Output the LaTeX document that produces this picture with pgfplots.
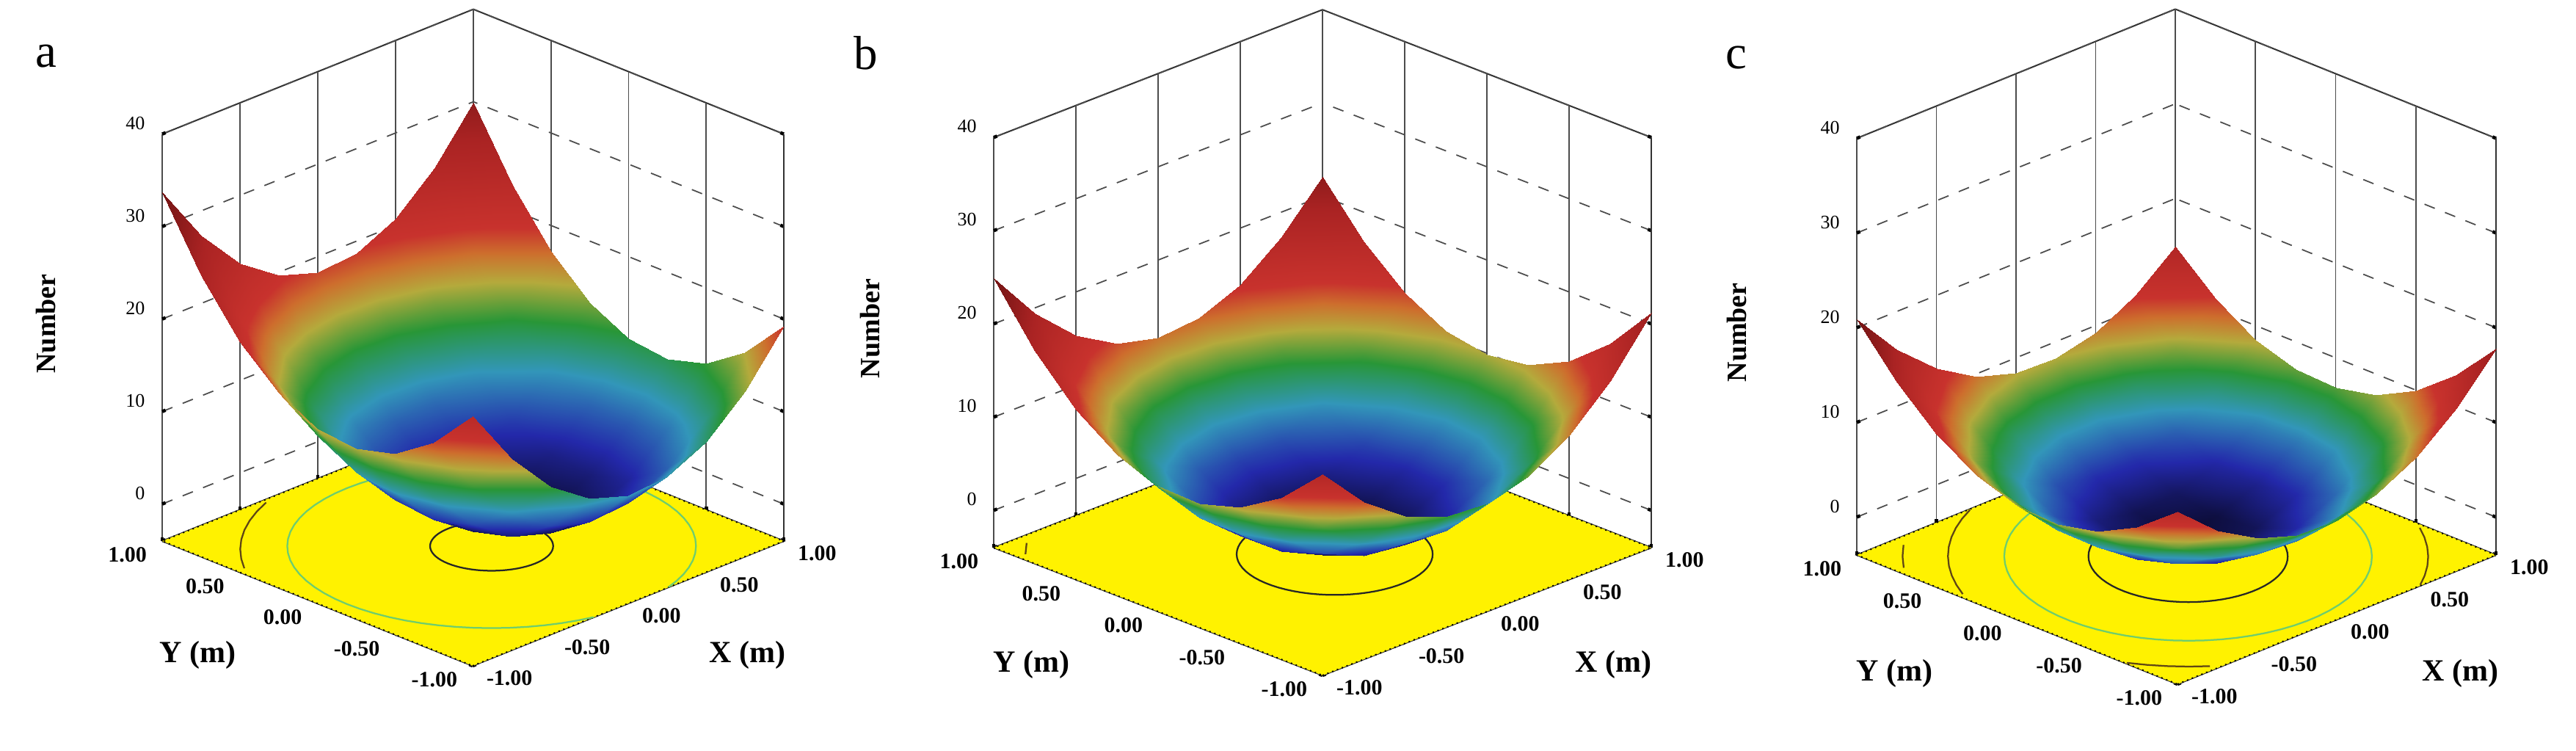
\documentclass[border=0pt]{standalone}
\usepackage{fontspec}
\setmainfont{Liberation Serif}
\usepackage{pgfplots}
\usepackage{pgfplotstable}
\pgfplotsset{compat=1.18}

% ---------- surface a (x varies fastest, rows are y = -1 ... 1)
\pgfplotstableread{
x y z
-1 -1 23.02
-0.75 -1 16.66
-0.5 -1 11.99
-0.25 -1 9.00
0 -1 7.69
0.25 -1 8.06
0.5 -1 10.11
0.75 -1 13.85
1 -1 19.27
-1 -0.75 18.46
-0.75 -0.75 12.11
-0.5 -0.75 7.43
-0.25 -0.75 4.44
0 -0.75 3.13
0.25 -0.75 3.50
0.5 -0.75 5.56
0.75 -0.75 9.29
1 -0.75 14.71
-1 -0.5 15.59
-0.75 -0.5 9.23
-0.5 -0.5 4.56
-0.25 -0.5 1.56
0 -0.5 0.25
0.25 -0.5 0.63
0.5 -0.5 2.68
0.75 -0.5 6.42
1 -0.5 11.84
-1 -0.25 14.40
-0.75 -0.25 8.04
-0.5 -0.25 3.36
-0.25 -0.25 0.37
0 -0.25 -0.94
0.25 -0.25 -0.57
0.5 -0.25 1.49
0.75 -0.25 5.23
1 -0.25 10.65
-1 0 14.89
-0.75 0 8.53
-0.5 0 3.85
-0.25 0 0.86
0 0 -0.45
0.25 0 -0.08
0.5 0 1.98
0.75 0 5.72
1 0 11.14
-1 0.25 17.06
-0.75 0.25 10.70
-0.5 0.25 6.03
-0.25 0.25 3.03
0 0.25 1.72
0.25 0.25 2.10
0.5 0.25 4.15
0.75 0.25 7.89
1 0.25 13.31
-1 0.5 20.91
-0.75 0.5 14.56
-0.5 0.5 9.88
-0.25 0.5 6.89
0 0.5 5.58
0.25 0.5 5.95
0.5 0.5 8.01
0.75 0.5 11.74
1 0.5 17.16
-1 0.75 26.45
-0.75 0.75 20.09
-0.5 0.75 15.42
-0.25 0.75 12.43
0 0.75 11.12
0.25 0.75 11.49
0.5 0.75 13.54
0.75 0.75 17.28
1 0.75 22.70
-1 1 33.67
-0.75 1 27.31
-0.5 1 22.64
-0.25 1 19.65
0 1 18.34
0.25 1 18.71
0.5 1 20.76
0.75 1 24.50
1 1 29.92
}\surfA

% ---------- surface b
\pgfplotstableread{
x y z
-1 -1 17.60
-0.75 -1 12.89
-0.5 -1 9.65
-0.25 -1 7.89
0 -1 7.60
0.25 -1 8.79
0.5 -1 11.45
0.75 -1 15.59
1 -1 21.20
-1 -0.75 13.35
-0.75 -0.75 8.54
-0.5 -0.75 5.20
-0.25 -0.75 3.34
0 -0.75 2.95
0.25 -0.75 4.04
0.5 -0.75 6.60
0.75 -0.75 10.64
1 -0.75 16.15
-1 -0.5 10.58
-0.75 -0.5 5.66
-0.5 -0.5 2.23
-0.25 -0.5 0.26
0 -0.5 -0.23
0.25 -0.5 0.76
0.5 -0.5 3.23
0.75 -0.5 7.16
1 -0.5 12.58
-1 -0.25 9.28
-0.75 -0.25 4.26
-0.5 -0.25 0.73
-0.25 -0.25 -1.34
0 -0.25 -1.93
0.25 -0.25 -1.04
0.5 -0.25 1.33
0.75 -0.25 5.16
1 -0.25 10.48
-1 0 9.45
-0.75 0 4.34
-0.5 0 0.70
-0.25 0 -1.46
0 0 -2.15
0.25 0 -1.36
0.5 0 0.90
0.75 0 4.64
1 0 9.85
-1 0.25 11.10
-0.75 0.25 5.89
-0.5 0.25 2.15
-0.25 0.25 -0.11
0 0.25 -0.90
0.25 0.25 -0.21
0.5 0.25 1.95
0.75 0.25 5.59
1 0.25 10.70
-1 0.5 14.23
-0.75 0.5 8.91
-0.5 0.5 5.08
-0.25 0.5 2.71
0 0.5 1.83
0.25 0.5 2.41
0.5 0.5 4.48
0.75 0.5 8.01
1 0.5 13.03
-1 0.75 18.83
-0.75 0.75 13.41
-0.5 0.75 9.48
-0.25 0.75 7.01
0 0.75 6.03
0.25 0.75 6.51
0.5 0.75 8.48
0.75 0.75 11.91
1 0.75 16.83
-1 1 24.90
-0.75 1 19.39
-0.5 1 15.35
-0.25 1 12.79
0 1 11.70
0.25 1 12.09
0.5 1 13.95
0.75 1 17.29
1 1 22.10
}\surfB

% ---------- surface c
\pgfplotstableread{
x y z
-1 -1 14.20
-0.75 -1 10.49
-0.5 -1 7.98
-0.25 -1 6.64
0 -1 6.50
0.25 -1 7.54
0.5 -1 9.78
0.75 -1 13.19
1 -1 17.80
-1 -0.75 10.88
-0.75 -0.75 7.03
-0.5 -0.75 4.36
-0.25 -0.75 2.88
0 -0.75 2.58
0.25 -0.75 3.48
0.5 -0.75 5.56
0.75 -0.75 8.83
1 -0.75 13.28
-1 -0.5 8.75
-0.75 -0.5 4.74
-0.5 -0.5 1.93
-0.25 -0.5 0.29
0 -0.5 -0.15
0.25 -0.5 0.59
0.5 -0.5 2.53
0.75 -0.5 5.64
1 -0.5 9.95
-1 -0.25 7.81
-0.75 -0.25 3.65
-0.5 -0.25 0.68
-0.25 -0.25 -1.10
0 -0.25 -1.69
0.25 -0.25 -1.10
0.5 -0.25 0.68
0.75 -0.25 3.65
1 -0.25 7.81
-1 0 8.05
-0.75 0 3.74
-0.5 0 0.63
-0.25 0 -1.31
0 0 -2.05
0.25 0 -1.61
0.5 0 0.03
0.75 0 2.84
1 0 6.85
-1 0.25 9.48
-0.75 0.25 5.03
-0.5 0.25 1.76
-0.25 0.25 -0.33
0 0.25 -1.22
0.25 0.25 -0.93
0.5 0.25 0.56
0.75 0.25 3.23
1 0.25 7.08
-1 0.5 12.10
-0.75 0.5 7.49
-0.5 0.5 4.08
-0.25 0.5 1.84
0 0.5 0.80
0.25 0.5 0.94
0.5 0.5 2.28
0.75 0.5 4.79
1 0.5 8.50
-1 0.75 15.91
-0.75 0.75 11.15
-0.5 0.75 7.58
-0.25 0.75 5.20
0 0.75 4.01
0.25 0.75 4.00
0.5 0.75 5.18
0.75 0.75 7.55
1 0.75 11.11
-1 1 20.90
-0.75 1 15.99
-0.5 1 12.28
-0.25 1 9.74
0 1 8.40
0.25 1 8.24
0.5 1 9.28
0.75 1 11.49
1 1 14.90
}\surfC

% ---------- unit circle (5 degree steps) on the floor plane zf = -4, used for the floor contours
\pgfplotstableread{
cs sn zf
1.0000 0.0000 -4
0.9962 0.0872 -4
0.9848 0.1736 -4
0.9659 0.2588 -4
0.9397 0.3420 -4
0.9063 0.4226 -4
0.8660 0.5000 -4
0.8192 0.5736 -4
0.7660 0.6428 -4
0.7071 0.7071 -4
0.6428 0.7660 -4
0.5736 0.8192 -4
0.5000 0.8660 -4
0.4226 0.9063 -4
0.3420 0.9397 -4
0.2588 0.9659 -4
0.1736 0.9848 -4
0.0872 0.9962 -4
0.0000 1.0000 -4
-0.0872 0.9962 -4
-0.1736 0.9848 -4
-0.2588 0.9659 -4
-0.3420 0.9397 -4
-0.4226 0.9063 -4
-0.5000 0.8660 -4
-0.5736 0.8192 -4
-0.6428 0.7660 -4
-0.7071 0.7071 -4
-0.7660 0.6428 -4
-0.8192 0.5736 -4
-0.8660 0.5000 -4
-0.9063 0.4226 -4
-0.9397 0.3420 -4
-0.9659 0.2588 -4
-0.9848 0.1736 -4
-0.9962 0.0872 -4
-1.0000 0.0000 -4
-0.9962 -0.0872 -4
-0.9848 -0.1736 -4
-0.9659 -0.2588 -4
-0.9397 -0.3420 -4
-0.9063 -0.4226 -4
-0.8660 -0.5000 -4
-0.8192 -0.5736 -4
-0.7660 -0.6428 -4
-0.7071 -0.7071 -4
-0.6428 -0.7660 -4
-0.5736 -0.8192 -4
-0.5000 -0.8660 -4
-0.4226 -0.9063 -4
-0.3420 -0.9397 -4
-0.2588 -0.9659 -4
-0.1736 -0.9848 -4
-0.0872 -0.9962 -4
0.0000 -1.0000 -4
0.0872 -0.9962 -4
0.1736 -0.9848 -4
0.2588 -0.9659 -4
0.3420 -0.9397 -4
0.4226 -0.9063 -4
0.5000 -0.8660 -4
0.5736 -0.8192 -4
0.6428 -0.7660 -4
0.7071 -0.7071 -4
0.7660 -0.6428 -4
0.8192 -0.5736 -4
0.8660 -0.5000 -4
0.9063 -0.4226 -4
0.9397 -0.3420 -4
0.9659 -0.2588 -4
0.9848 -0.1736 -4
0.9962 -0.0872 -4
1.0000 0.0000 -4
}\unitcircle

\definecolor{ctrgreen}{RGB}{110,205,110}
\definecolor{ctrdark}{RGB}{95,70,20}

\pgfplotsset{
  colormap={dexp}{rgb255(0pt)=(10,10,45) rgb255(12pt)=(35,40,170) rgb255(25pt)=(50,150,185)
    rgb255(36pt)=(40,150,55) rgb255(45pt)=(180,170,60) rgb255(52pt)=(205,110,45) rgb255(58pt)=(200,50,45)
    rgb255(80pt)=(170,35,35) rgb255(100pt)=(115,20,20)},
  dexp/.style={
    anchor=origin, clip=false,
    xmin=-1, xmax=1, ymin=-1, ymax=1, zmin=-4, zmax=40,
    xtick={-1,-0.5,0,0.5,1}, ytick={-1,-0.5,0,0.5,1}, ztick={0,10,20,30,40},
    xticklabels={-1.00,-0.50,0.00,0.50,1.00},
    yticklabels={-1.00,-0.50,0.00,0.50,1.00},
    zticklabels={0,10,20,30,40},
    tick pos=left,
    grid=major,
    x grid style={black!70, line width=0.35pt},
    y grid style={black!70, line width=0.35pt},
    z grid style={black!70, dashed, line width=0.35pt},
    axis line style={black!80, line width=0.4pt},
    tick style={black, line width=0.9pt},
    major tick length=1pt,
    xticklabel style={font=\fontsize{6}{7}\selectfont\bfseries, anchor=north west, inner sep=0pt, xshift=3.6pt, yshift=-1.2pt},
    yticklabel style={font=\fontsize{6}{7}\selectfont\bfseries, anchor=north east, inner sep=0pt, xshift=-4pt, yshift=-1.6pt},
    zticklabel style={font=\fontsize{5.2}{6}\selectfont, anchor=south east, inner sep=0pt, xshift=-4.5pt, yshift=1pt},
    xlabel={X (m)}, ylabel={Y (m)}, zlabel={Number},
    every axis x label/.style={at={(axis cs:-0.03,-1.8,-4)}, anchor=center, font=\fontsize{8.4}{9}\selectfont\bfseries},
    every axis y label/.style={at={(axis cs:-1.8,-0.03,-4)}, anchor=center, font=\fontsize{8.4}{9}\selectfont\bfseries},
    every axis z label/.style={at={(axis cs:-1.375,1.375,19.5)}, rotate=90, anchor=center, font=\fontsize{7.6}{9}\selectfont\bfseries},
    colormap name=dexp,
  },
  floorstyle/.style={fill=yellow, draw=black, densely dotted, line width=0.4pt},
  surfstyle/.style={surf, shader=interp, z buffer=sort, mesh/cols=9},
  ctr/.style={no marks, line width=0.45pt, restrict x to domain=-1:1, restrict y to domain=-1:1, unbounded coords=jump},
}

\begin{document}
\begin{tikzpicture}
\useasboundingbox (0,0) rectangle (702pt,204.4pt);

% ================= panel a
\begin{axis}[dexp, at={(128.9pt,67.08pt)}, x={(42.4pt,17pt)}, y={(-42.3pt,17pt)}, z={(0pt,2.52pt)}]
\addplot3[floorstyle] coordinates {(-1,-1,-4) (1,-1,-4) (1,1,-4) (-1,1,-4)} -- cycle;
\addplot3[ctr, black!85] table[x expr={0.02+0.28*\thisrow{cs}}, y expr={-0.1+0.28*\thisrow{sn}}, z=zf] {\unitcircle};
\addplot3[ctr, ctrgreen] table[x expr={0.02+0.93*\thisrow{cs}}, y expr={-0.1+0.93*\thisrow{sn}}, z=zf] {\unitcircle};
\addplot3[ctr, ctrdark] table[x expr={0.07+1.25*\thisrow{cs}}, y expr={-0.2+1.25*\thisrow{sn}}, z=zf] {\unitcircle};
\addplot3[surfstyle] table {\surfA};
\end{axis}

% ================= panel b
\begin{axis}[dexp, at={(360.4pt,65.36pt)}, x={(44.8pt,17.4pt)}, y={(-44.8pt,17.4pt)}, z={(0pt,2.54pt)}]
\addplot3[floorstyle] coordinates {(-1,-1,-4) (1,-1,-4) (1,1,-4) (-1,1,-4)} -- cycle;
\addplot3[ctr, black!85] table[x expr={-0.014+0.7071*(0.451*\thisrow{cs}+0.4216*\thisrow{sn})}, y expr={-0.088+0.7071*(0.451*\thisrow{cs}-0.4216*\thisrow{sn})}, z=zf] {\unitcircle};
\addplot3[ctr, ctrdark] table[x expr={-0.014+0.7071*(1.42*\thisrow{cs}+1.33*\thisrow{sn})}, y expr={-0.088+0.7071*(1.42*\thisrow{cs}-1.33*\thisrow{sn})}, z=zf] {\unitcircle};
\addplot3[surfstyle] table {\surfB};
\end{axis}

% ================= panel c
\begin{axis}[dexp, at={(593.1pt,63.52pt)}, x={(43.4pt,17.6pt)}, y={(-43.7pt,17.6pt)}, z={(0pt,2.58pt)}]
\addplot3[floorstyle] coordinates {(-1,-1,-4) (1,-1,-4) (1,1,-4) (-1,1,-4)} -- cycle;
\addplot3[ctr, black!85] table[x expr={0.026+0.7071*(0.5006*\thisrow{cs}+0.4409*\thisrow{sn})}, y expr={-0.047+0.7071*(0.5006*\thisrow{cs}-0.4409*\thisrow{sn})}, z=zf] {\unitcircle};
\addplot3[ctr, ctrgreen] table[x expr={0.026+0.7071*(0.9236*\thisrow{cs}+0.8134*\thisrow{sn})}, y expr={-0.047+0.7071*(0.9236*\thisrow{cs}-0.8134*\thisrow{sn})}, z=zf] {\unitcircle};
\addplot3[ctr, ctrdark] table[x expr={0.026+0.7071*(1.2064*\thisrow{cs}+1.0625*\thisrow{sn})}, y expr={-0.047+0.7071*(1.2064*\thisrow{cs}-1.0625*\thisrow{sn})}, z=zf] {\unitcircle};
\addplot3[ctr, ctrdark] table[x expr={0.026+0.7071*(1.4345*\thisrow{cs}+1.2634*\thisrow{sn})}, y expr={-0.047+0.7071*(1.4345*\thisrow{cs}-1.2634*\thisrow{sn})}, z=zf] {\unitcircle};
\addplot3[surfstyle] table {\surfC};
\end{axis}

\node[font=\fontsize{13}{14}\selectfont] at (12.6pt,189pt) {a};
\node[font=\fontsize{13}{14}\selectfont] at (236pt,190pt) {b};
\node[font=\fontsize{13}{14}\selectfont] at (473.2pt,188.8pt) {c};
\end{tikzpicture}
\end{document}
